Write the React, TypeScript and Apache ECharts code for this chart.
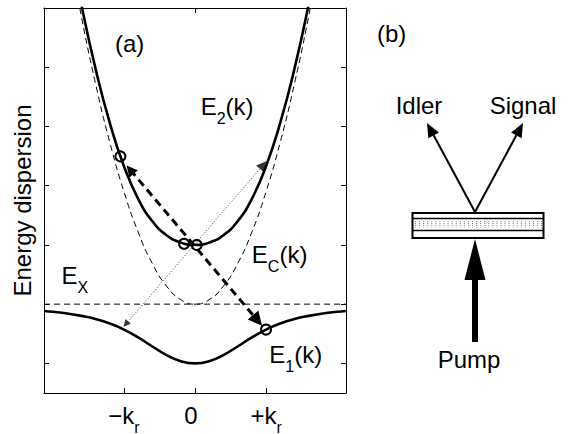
import React, { useEffect, useRef } from "react";
import * as echarts from "echarts";

// ---- data (k in units of k_r, energy in tick units) ----
const kLower = [-2.12, -2.0, -1.8, -1.6, -1.4, -1.2, -1.0, -0.8, -0.6, -0.4, -0.2, 0, 0.2, 0.4, 0.6, 0.8, 1.0, 1.2, 1.4, 1.6, 1.8, 2.0, 2.12];
const e1Values = [0.885, 0.871, 0.842, 0.802, 0.749, 0.674, 0.571, 0.438, 0.285, 0.141, 0.037, 0, 0.037, 0.141, 0.285, 0.438, 0.571, 0.674, 0.749, 0.802, 0.842, 0.871, 0.885];
const kUpper = [-1.8, -1.6, -1.4, -1.2, -1.0, -0.8, -0.6, -0.4, -0.2, 0, 0.2, 0.4, 0.6, 0.8, 1.0, 1.2, 1.4, 1.6, 1.8];
const e2Values = [7.314, 6.062, 4.976, 4.063, 3.329, 2.778, 2.399, 2.164, 2.039, 2.0, 2.039, 2.164, 2.399, 2.778, 3.329, 4.063, 4.976, 6.062, 7.314];
const eCValues = [7.156, 5.864, 4.724, 3.736, 2.9, 2.216, 1.684, 1.304, 1.076, 1.0, 1.076, 1.304, 1.684, 2.216, 2.9, 3.736, 4.724, 5.864, 7.156];
const eXk = [-2.125, 2.125];
const eXValues = [1, 1];

const circleK = [-0.154, 0.024, -1.05, 1.0];
const circleE = [2.02, 2.0, 3.495, 0.571];

// arrows: [kFrom, eFrom, kTo, eTo]
const scatterArrow = [-0.913, 3.27, 0.88, 0.725];
const dottedArrow = [-0.973, 0.664, 0.959, 3.349];

const xTickValues = [-1, 0, 1];
const xTopTickValues = [0];
const yTickValues = [0, 1, 2, 3, 4, 5];

const labelTexts = ["(a)", "E2(k)", "EC(k)", "EX", "E1(k)"];
const labelK = [-1.127, 0.08, 0.8, -1.877, 1.046];
const labelE = [5.4, 4.33, 1.84, 1.48, 0.15];

const FONT = '"Liberation Sans", Arial, Helvetica, sans-serif';

const rich = {
  m: { fontSize: 24, lineHeight: 40, fontFamily: FONT, color: "#000" },
  s: { fontSize: 16, lineHeight: 14, verticalAlign: "bottom", fontFamily: FONT, color: "#000" },
  z: { fontSize: 24, lineHeight: 40, fontFamily: FONT, color: "#000", padding: [0, 8, 0, 0] },
};

function richLabel(t: string): string {
  if (t === "(a)") return "{m|(a)}";
  if (t === "EX") return "{m|E}{s|X}";
  const sub = t.charAt(1);
  return "{m|E}{s|" + sub + "}{m|(k)}";
}

function zip(a: number[], b: number[]): number[][] {
  return a.map((v, i) => [v, b[i]]);
}

function head(tip: number[], from: number[], len: number, hw: number) {
  const dx = tip[0] - from[0];
  const dy = tip[1] - from[1];
  const L = Math.hypot(dx, dy);
  const ux = dx / L, uy = dy / L;
  const bx = tip[0] - ux * len, by = tip[1] - uy * len;
  const px = -uy, py = ux;
  return {
    base: [bx, by],
    pts: [tip, [bx + px * hw, by + py * hw], [bx - px * hw, by - py * hw]],
  };
}

export default function App() {
  const ref = useRef<HTMLDivElement>(null);
  useEffect(() => {
    if (!ref.current) return;
    const chart = echarts.init(ref.current, null, { renderer: "svg" });

    const apex = [475, 212];
    const idH = head([427, 123], apex, 14, 6);
    const sgH = head([523, 123], apex, 14, 6);

    const hatch: any[] = [];
    for (let i = 0; i < 32; i++) {
      const x = 415.5 + i * 4.07;
      hatch.push({
        type: "line",
        shape: { x1: x, y1: 221, x2: x, y2: 227.5 },
        style: { stroke: "#777", lineWidth: 1, lineDash: [1, 1] },
        silent: true,
      });
    }

    const textStyle = (text: string, x: number, y: number, align: string) => ({
      type: "text",
      style: {
        text, x, y,
        font: "24px " + FONT,
        fontSize: 24,
        fontFamily: FONT,
        fill: "#000",
        align, textAlign: align,
        verticalAlign: "middle", textVerticalAlign: "middle",
      },
      silent: true,
    });

    const option: any = {
      animation: false,
      backgroundColor: "#fff",
      grid: { left: 44, top: 8, width: 302, height: 385, containLabel: false, outerBoundsMode: "none" },
      xAxis: [
        {
          type: "value", position: "bottom", min: -2.125, max: 2.125,
          axisLine: { show: true, onZero: false, lineStyle: { color: "#000", width: 1 } },
          axisTick: { show: true, inside: true, length: 5, customValues: xTickValues, lineStyle: { color: "#000" } },
          axisLabel: {
            show: true, margin: 2, customValues: xTickValues, rich,
            formatter: (v: number) => (v < 0 ? "{m|\u2212k}{s|r}" : v > 0 ? "{m|+k}{s|r}" : "{z|0}"),
          },
          splitLine: { show: false },
        },
        {
          type: "value", position: "top", min: -2.125, max: 2.125,
          axisLine: { show: true, onZero: false, lineStyle: { color: "#000", width: 1 } },
          axisTick: { show: true, inside: true, length: 5, customValues: xTopTickValues, lineStyle: { color: "#000" } },
          axisLabel: { show: false },
          splitLine: { show: false },
        },
      ],
      yAxis: [
        {
          type: "value", position: "left", min: -0.5, max: 6,
          name: "Energy dispersion", nameLocation: "middle", nameGap: 10,
          nameTextStyle: { fontSize: 24, fontFamily: FONT, color: "#000" },
          axisLine: { show: true, onZero: false, lineStyle: { color: "#000", width: 1 } },
          axisTick: { show: true, inside: true, length: 5, customValues: yTickValues, lineStyle: { color: "#000" } },
          axisLabel: { show: false },
          splitLine: { show: false },
        },
        {
          type: "value", position: "right", min: -0.5, max: 6,
          axisLine: { show: true, onZero: false, lineStyle: { color: "#000", width: 1 } },
          axisTick: { show: true, inside: true, length: 5, customValues: yTickValues, lineStyle: { color: "#000" } },
          axisLabel: { show: false },
          splitLine: { show: false },
        },
      ],
      series: [
        {
          name: "EX", type: "line", data: zip(eXk, eXValues), symbol: "none",
          lineStyle: { color: "#000", width: 1, type: [6, 4] }, z: 2,
        },
        {
          name: "EC", type: "line", data: zip(kUpper, eCValues), symbol: "none", smooth: true,
          lineStyle: { color: "#000", width: 1, type: [6, 4] }, z: 2,
        },
        {
          name: "dotted", type: "lines", coordinateSystem: "cartesian2d",
          symbol: ["triangle", "triangle"], symbolSize: [7, 10],
          lineStyle: { color: "#333", width: 1, type: [1, 2], opacity: 1, curveness: 0 },
          data: [{ coords: [[dottedArrow[0], dottedArrow[1]], [dottedArrow[2], dottedArrow[3]]] }],
          z: 3,
        },
        {
          name: "scatter", type: "lines", coordinateSystem: "cartesian2d",
          symbol: ["triangle", "triangle"], symbolSize: [11, 14],
          lineStyle: { color: "#000", width: 3, type: [8, 5], opacity: 1, curveness: 0 },
          data: [{ coords: [[scatterArrow[0], scatterArrow[1]], [scatterArrow[2], scatterArrow[3]]] }],
          z: 4,
        },
        {
          name: "E1", type: "line", data: zip(kLower, e1Values), symbol: "none", smooth: true,
          lineStyle: { color: "#000", width: 2.6 }, z: 5,
        },
        {
          name: "E2", type: "line", data: zip(kUpper, e2Values), symbol: "none", smooth: true,
          lineStyle: { color: "#000", width: 2.6 }, z: 5,
        },
        {
          name: "circles", type: "scatter", data: zip(circleK, circleE),
          symbol: "circle", symbolSize: 10,
          itemStyle: { color: "rgba(0,0,0,0)", borderColor: "#000", borderWidth: 2, opacity: 1 }, z: 6,
        },
        {
          name: "labels", type: "scatter", symbolSize: 0,
          itemStyle: { color: "rgba(0,0,0,0)", opacity: 1 },
          data: labelTexts.map((t, i) => ({
            value: [labelK[i], labelE[i]],
            label: { show: true, position: "right", distance: 0, opacity: 1, color: "#000", formatter: richLabel(t), rich },
          })),
          z: 7,
        },
      ],
      graphic: [
        textStyle("(b)", 377, 33, "left"),
        textStyle("Idler", 419, 105.5, "center"),
        textStyle("Signal", 523, 105.5, "center"),
        textStyle("Pump", 469, 359, "center"),
        {
          type: "line", shape: { x1: apex[0], y1: apex[1], x2: idH.base[0], y2: idH.base[1] },
          style: { stroke: "#000", lineWidth: 2 }, silent: true,
        },
        { type: "polygon", shape: { points: idH.pts }, style: { fill: "#000" }, silent: true },
        {
          type: "line", shape: { x1: apex[0], y1: apex[1], x2: sgH.base[0], y2: sgH.base[1] },
          style: { stroke: "#000", lineWidth: 2 }, silent: true,
        },
        { type: "polygon", shape: { points: sgH.pts }, style: { fill: "#000" }, silent: true },
        {
          type: "rect", shape: { x: 412.5, y: 213, width: 131, height: 25 },
          style: { fill: "#fff", stroke: "#000", lineWidth: 2 }, silent: true,
        },
        {
          type: "line", shape: { x1: 412.5, y1: 218.5, x2: 543.5, y2: 218.5 },
          style: { stroke: "#000", lineWidth: 1.5 }, silent: true,
        },
        {
          type: "line", shape: { x1: 412.5, y1: 230.5, x2: 543.5, y2: 230.5 },
          style: { stroke: "#000", lineWidth: 1.5 }, silent: true,
        },
        ...hatch,
        {
          type: "rect", shape: { x: 472, y: 276, width: 6, height: 66 },
          style: { fill: "#000" }, silent: true,
        },
        {
          type: "polygon", shape: { points: [[475, 239], [485.5, 280], [464.5, 280]] },
          style: { fill: "#000" }, silent: true,
        },
      ],
    };
    chart.setOption(option);
    return () => chart.dispose();
  }, []);
  return (
    <div
      ref={ref}
      style={{ position: "fixed", left: 0, top: 0, width: 569, height: 434, background: "#fff" }}
    />
  );
}
